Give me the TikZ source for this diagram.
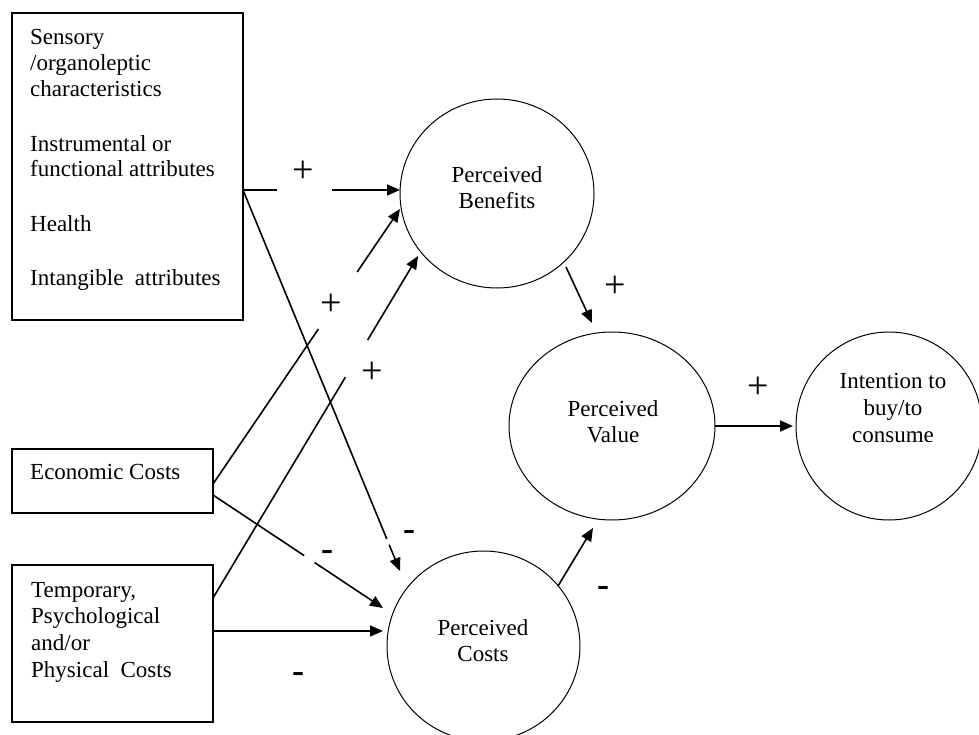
\documentclass[tikz,border=0pt]{standalone}
\usepackage{fontspec}
\setmainfont{Liberation Serif}
\usetikzlibrary{arrows.meta,calc,shapes.geometric}
\begin{document}
\begin{tikzpicture}[x=1pt,y=-1pt,
  box/.style={draw,line width=1.3pt,inner sep=0pt,outer sep=0pt,anchor=north west},
  oval/.style={draw,ellipse,line width=1pt,inner sep=0pt,outer sep=0pt},
  txt/.style={anchor=base west,inner sep=0pt,font=\fontsize{23}{26}\selectfont},
  ctxt/.style={anchor=base,inner sep=0pt,font=\fontsize{23}{26}\selectfont},
  conn/.style={line width=1.6pt},
  arr/.style={conn,-{Triangle[length=13pt,width=11pt]}},
  plus/.style={inner sep=0pt,font=\fontsize{38}{38}\selectfont},
  minus/.style={inner sep=0pt,font=\fontsize{36}{36}\selectfont\bfseries},
]
\useasboundingbox (0,0) rectangle (979,735);

% boxes
\node[box,minimum width=231pt,minimum height=307pt] (b1) at (12,13) {};
\node[box,minimum width=201pt,minimum height=64pt] (ec) at (12,449) {};
\node[box,minimum width=201pt,minimum height=157pt] (tc) at (12,565) {};

% ellipses
\node[oval,minimum width=194pt,minimum height=189pt] (ben) at (497,193.5) {};
\node[oval,minimum width=206pt,minimum height=188pt] (val) at (612,426) {};
\node[oval,minimum width=186pt,minimum height=188pt] (int) at (889,426) {};
\node[oval,minimum width=193pt,minimum height=190pt] (pc) at (483.5,646) {};

% box texts
\node[txt] (b1a) at (30,45) {Sensory};
\node[txt] (b1b) at (30,71) {/organoleptic};
\node[txt] (b1c) at (30,97) {characteristics};
\node[txt] (b1d) at (30,152) {Instrumental or};
\node[txt] (b1e) at (30,177) {functional attributes};
\node[txt] (b1f) at (30,232) {Health};
\node[txt] (b1g) at (30,285) {Intangible\ \ attributes};
\node[txt] (eca) at (30,479) {Economic Costs};
\node[txt] (tca) at (31,597) {Temporary,};
\node[txt] (tcb) at (31,623) {Psychological};
\node[txt] (tcc) at (31,650) {and/or};
\node[txt] (tcd) at (31,677) {Physical\ \ Costs};

% ellipse texts
\node[ctxt] (bena) at (497,183) {Perceived};
\node[ctxt] (benb) at (497,209) {Benefits};
\node[ctxt] (vala) at (613,416) {Perceived};
\node[ctxt] (valb) at (613,442) {Value};
\node[ctxt] (inta) at (893,388) {Intention to};
\node[ctxt] (intb) at (893,415) {buy/to};
\node[ctxt] (intc) at (893,442) {consume};
\node[ctxt] (pca) at (483,635) {Perceived};
\node[ctxt] (pcb) at (483,661) {Costs};

% connector end points
\coordinate (s1) at ($(b1.north east)+(0,177)$);
\coordinate (t1) at ($(ben.center)+(-97,-3.5)$);
\coordinate (t2) at ($(pc.center)+(-83.5,-75)$);
\coordinate (s3) at ($(ec.north east)+(0,35)$);
\coordinate (t3) at ($(ben.center)+(-97,15.5)$);
\coordinate (s4) at ($(tc.north east)+(0,33)$);
\coordinate (t4) at ($(ben.center)+(-79,62.5)$);
\coordinate (s5) at ($(ec.north east)+(0,46)$);
\coordinate (t5) at ($(pc.center)+(-100.5,-38)$);
\coordinate (s6) at ($(tc.north east)+(0,66)$);
\coordinate (t6) at ($(pc.center)+(-100.5,-15)$);
\coordinate (s7) at ($(ben.center)+(69,73.5)$);
\coordinate (t7) at ($(val.center)+(-20,-103)$);
\coordinate (t8) at ($(int.west)+(-3,0)$);
\coordinate (s9) at ($(pc.center)+(74.5,-60)$);
\coordinate (t9) at ($(val.center)+(-19,102)$);

% connectors
\draw[conn] (s1) -- ($(s1)!0.217!(t1)$);
\draw[arr] ($(s1)!0.567!(t1)$) -- (t1);
\draw[conn] (s1) -- ($(s1)!0.916!(t2)$);
\draw[arr] ($(s1)!0.931!(t2)$) -- (t2);
\draw[conn] (s3) -- ($(s3)!0.564!(t3)$);
\draw[arr] ($(s3)!0.771!(t3)$) -- (t3);
\draw[conn] (s4) -- ($(s4)!0.646!(t4)$);
\draw[arr] ($(s4)!0.754!(t4)$) -- (t4);
\draw[conn] (s5) -- ($(s5)!0.536!(t5)$);
\draw[arr] ($(s5)!0.598!(t5)$) -- (t5);
\draw[arr] (s6) -- (t6);
\draw[arr] (s7) -- (t7);
\draw[arr] (val.east) -- (t8);
\draw[arr] (s9) -- (t9);

% signs
\node[plus] (p1) at (303,172) {+};
\node[plus] (p3) at (331,305) {+};
\node[plus] (p4) at (372,373) {+};
\node[plus] (p7) at (615,287) {+};
\node[plus] (p8) at (758,388) {+};
\node[minus] (m2) at (409,535) {-};
\node[minus] (m5) at (327,555) {-};
\node[minus] (m6) at (298,677) {-};
\node[minus] (m9) at (603,591) {-};
\end{tikzpicture}
\end{document}
